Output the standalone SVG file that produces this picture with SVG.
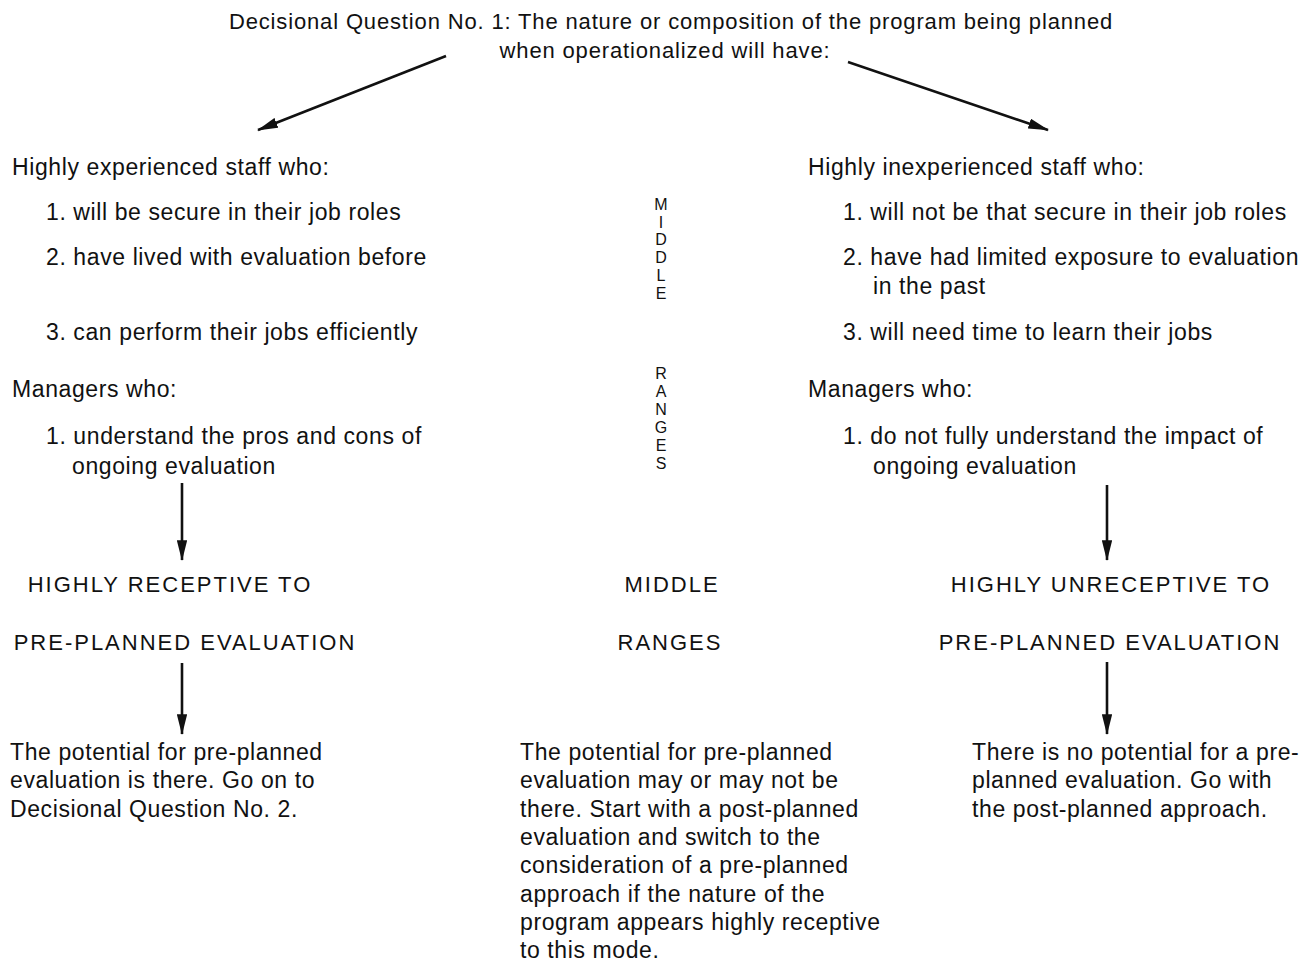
<svg xmlns="http://www.w3.org/2000/svg" width="1311" height="963" viewBox="0 0 1311 963">
<defs>
<style>
text{font-family:"Liberation Sans",Arial,sans-serif;fill:#111;}
.b{font-size:23px;letter-spacing:0.6px;}
.t{font-size:22px;letter-spacing:0.85px;}
.c{font-size:22px;letter-spacing:2px;}
.v{font-size:16px;text-anchor:middle;}
.m{text-anchor:middle;}
.ln{stroke:#111;stroke-width:2.6;fill:none;}
</style>
<marker id="ah" viewBox="0 0 20 10" refX="19" refY="5" markerWidth="8" markerHeight="4" markerUnits="strokeWidth" orient="auto">
<path d="M0,0 L20,5 L0,10 z" fill="#111"/>
</marker>
</defs>
<rect width="1311" height="963" fill="#fff"/>
<g id="title">
<text class="t m" x="671" y="29">Decisional Question No. 1: The nature or composition of the program being planned</text>
<text class="t m" x="665" y="58">when operationalized will have:</text>
</g>
<g id="left-list">
<text class="b" x="12" y="175">Highly experienced staff who:</text>
<text class="b" x="46" y="220">1. will be secure in their job roles</text>
<text class="b" x="46" y="265">2. have lived with evaluation before</text>
<text class="b" x="46" y="340">3. can perform their jobs efficiently</text>
<text class="b" x="12" y="397">Managers who:</text>
<text class="b" x="46" y="444">1. understand the pros and cons of</text>
<text class="b" x="72" y="474">ongoing evaluation</text>
</g>
<g id="middle-vertical">
<text class="v" x="661" y="210">M</text>
<text class="v" x="661" y="228">I</text>
<text class="v" x="661" y="245">D</text>
<text class="v" x="661" y="263">D</text>
<text class="v" x="661" y="281">L</text>
<text class="v" x="661" y="299">E</text>
<text class="v" x="661" y="379">R</text>
<text class="v" x="661" y="397">A</text>
<text class="v" x="661" y="415">N</text>
<text class="v" x="661" y="433">G</text>
<text class="v" x="661" y="451">E</text>
<text class="v" x="661" y="469">S</text>
</g>
<g id="right-list">
<text class="b" x="808" y="175">Highly inexperienced staff who:</text>
<text class="b" x="843" y="220">1. will not be that secure in their job roles</text>
<text class="b" x="843" y="265">2. have had limited exposure to evaluation</text>
<text class="b" x="873" y="294">in the past</text>
<text class="b" x="843" y="340">3. will need time to learn their jobs</text>
<text class="b" x="808" y="397">Managers who:</text>
<text class="b" x="843" y="444">1. do not fully understand the impact of</text>
<text class="b" x="873" y="474">ongoing evaluation</text>
</g>
<g id="left-receptive">
<text class="c m" x="170" y="592">HIGHLY RECEPTIVE TO</text>
<text class="c m" x="185" y="650">PRE-PLANNED EVALUATION</text>
</g>
<g id="middle-ranges">
<text class="c m" x="672" y="592">MIDDLE</text>
<text class="c m" x="670" y="650">RANGES</text>
</g>
<g id="right-unreceptive">
<text class="c m" x="1111" y="592">HIGHLY UNRECEPTIVE TO</text>
<text class="c m" x="1110" y="650">PRE-PLANNED EVALUATION</text>
</g>
<g id="left-result">
<text class="b" x="10" y="760">The potential for pre-planned</text>
<text class="b" x="10" y="788">evaluation is there. Go on to</text>
<text class="b" x="10" y="817">Decisional Question No. 2.</text>
</g>
<g id="middle-result">
<text class="b" x="520" y="760">The potential for pre-planned</text>
<text class="b" x="520" y="788">evaluation may or may not be</text>
<text class="b" x="520" y="817">there. Start with a post-planned</text>
<text class="b" x="520" y="845">evaluation and switch to the</text>
<text class="b" x="520" y="873">consideration of a pre-planned</text>
<text class="b" x="520" y="902">approach if the nature of the</text>
<text class="b" x="520" y="930">program appears highly receptive</text>
<text class="b" x="520" y="958">to this mode.</text>
</g>
<g id="right-result">
<text class="b" x="972" y="760">There is no potential for a pre-</text>
<text class="b" x="972" y="788">planned evaluation. Go with</text>
<text class="b" x="972" y="817">the post-planned approach.</text>
</g>
<g id="connectors">
<line class="ln" x1="446" y1="56" x2="258" y2="130" marker-end="url(#ah)"/>
<line class="ln" x1="848" y1="62" x2="1048" y2="130" marker-end="url(#ah)"/>
<line class="ln" x1="182" y1="483" x2="182" y2="560" marker-end="url(#ah)"/>
<line class="ln" x1="182" y1="663" x2="182" y2="734" marker-end="url(#ah)"/>
<line class="ln" x1="1107" y1="485" x2="1107" y2="560" marker-end="url(#ah)"/>
<line class="ln" x1="1107" y1="662" x2="1107" y2="734" marker-end="url(#ah)"/>
</g>
</svg>
